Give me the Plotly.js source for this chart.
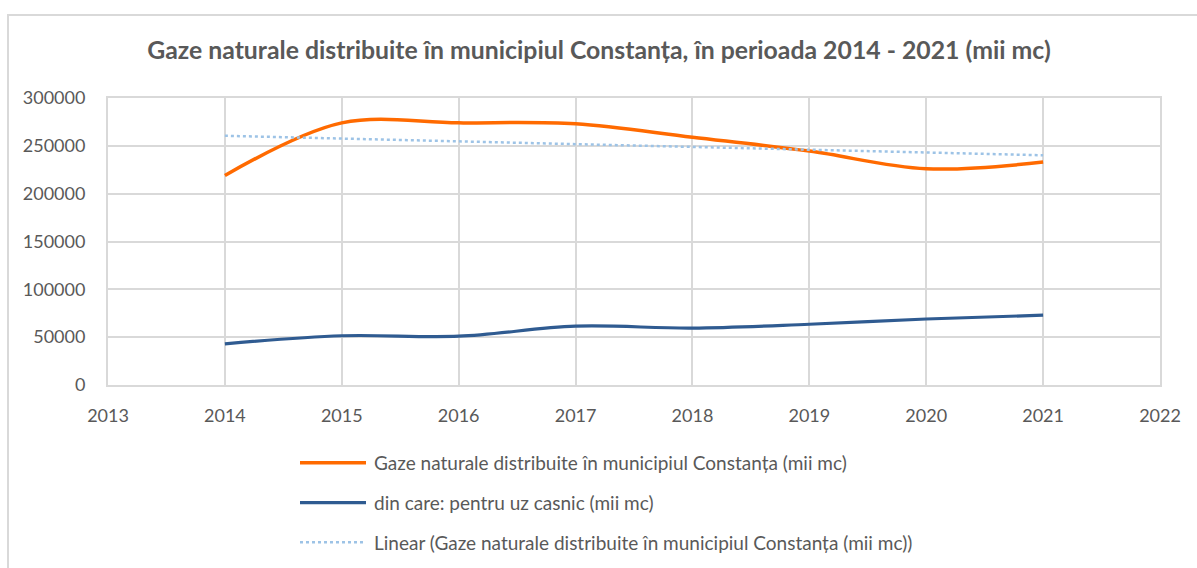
<!DOCTYPE html>
<html>
<head>
<meta charset="utf-8">
<script src="https://cdn.plot.ly/plotly-3.0.1.min.js"></script>
<style>
  html, body { margin: 0; padding: 0; background: #ffffff; overflow: hidden; }
  #chart { width: 1197px; height: 568px; position: absolute; left: 0; top: 0; }
  #frame { position: absolute; left: 7px; top: 14px; width: 1400px; height: 800px;
           border: 2px solid #d9d9d9; pointer-events: none; box-sizing: border-box; }
</style>
</head>
<body>
<div id="chart"></div>
<div id="frame"></div>
<script>
// ---- data ----
const years = [2014, 2015, 2016, 2017, 2018, 2019, 2020, 2021];
const totalGas = [219000, 274000, 274000, 273000, 259000, 244500, 226000, 233000];
const householdGas = [43000, 51500, 51000, 61500, 59500, 63500, 69000, 73000];
const xTickVals = [2013, 2014, 2015, 2016, 2017, 2018, 2019, 2020, 2021, 2022];
const yTickVals = [0, 50000, 100000, 150000, 200000, 250000, 300000];

const titleText = 'Gaze naturale distribuite în municipiul Constanța, în perioada 2014 - 2021 (mii mc)';
const nameTotal = 'Gaze naturale distribuite în municipiul Constanța (mii mc)';
const nameHouse = 'din care: pentru uz casnic (mii mc)';
const nameTrend = 'Linear (Gaze naturale distribuite în municipiul Constanța (mii mc))';

// linear trendline (least squares) of the total series, as in the original chart
function linearFit(xs, ys) {
  const n = xs.length;
  const mx = xs.reduce((a, b) => a + b, 0) / n;
  const my = ys.reduce((a, b) => a + b, 0) / n;
  let sxy = 0, sxx = 0;
  for (let i = 0; i < n; i++) { sxy += (xs[i] - mx) * (ys[i] - my); sxx += (xs[i] - mx) ** 2; }
  const b = sxy / sxx, a = my - b * mx;
  return xs.map(x => a + b * x);
}
const trend = linearFit(years, totalGas);

const FONT = 'Lato, "Open Sans", sans-serif';
const TXT = '#595959';
const GRID = '#d9d9d9';

const traces = [
  { x: years, y: totalGas, name: nameTotal, type: 'scatter', mode: 'lines',
    line: { color: '#ff6a00', width: 3.5, shape: 'spline', smoothing: 1 },
    legendgroup: 'a', hoverinfo: 'x+y' },
  { x: years, y: householdGas, name: nameHouse, type: 'scatter', mode: 'lines',
    line: { color: '#2f5b91', width: 3.2, shape: 'spline', smoothing: 1 },
    legendgroup: 'b', hoverinfo: 'x+y' },
  { x: years, y: trend, name: nameTrend, type: 'scatter', mode: 'lines',
    line: { color: '#9dc3e6', width: 2.5, dash: 'dot' },
    legendgroup: 'c', hoverinfo: 'x+y' }
];

const layout = {
  width: 1197, height: 568,
  paper_bgcolor: 'rgba(0,0,0,0)', plot_bgcolor: '#ffffff',
  margin: { l: 108, r: 37, t: 98, b: 183 },
  font: { family: FONT, color: TXT, size: 18 },
  title: { text: '<b>' + titleText + '</b>', font: { family: FONT, size: 24.8, color: TXT },
           x: 599 / 1197, xref: 'container', xanchor: 'center', y: 1 - 50 / 568, yref: 'container', yanchor: 'middle' },
  xaxis: { range: [2013, 2022], tickvals: xTickVals, ticktext: xTickVals.map(String),
           showgrid: true, gridcolor: GRID, gridwidth: 2, zeroline: false,
           showline: true, linecolor: GRID, linewidth: 2, mirror: true,
           ticks: '', ticklabelstandoff: 13, tickfont: { size: 18, color: TXT, family: FONT } },
  yaxis: { range: [0, 300000], tickvals: yTickVals, ticktext: yTickVals.map(String),
           showgrid: true, gridcolor: GRID, gridwidth: 2, zeroline: false,
           showline: true, linecolor: GRID, linewidth: 2, mirror: true,
           ticks: '', ticklabelstandoff: 17, tickfont: { size: 18, color: TXT, family: FONT } },
  showlegend: true,
  legend: { orientation: 'v', x: (334 - 108) / 1052, xanchor: 'left', xref: 'paper',
            y: 1 - 444 / 568, yref: 'container', yanchor: 'top',
            traceorder: 'grouped', tracegroupgap: 12,
            font: { family: FONT, size: 19, color: TXT }, bgcolor: 'rgba(0,0,0,0)' },
  hovermode: 'closest'
};

Plotly.newPlot('chart', traces, layout, { displayModeBar: false, staticPlot: true }).then(function (gd) {
  // lengthen the legend line samples to match the original legend keys
  gd.querySelectorAll('.legend [clip-path]').forEach(function (el) { el.removeAttribute('clip-path'); });
  gd.querySelectorAll('.legend .legendlines path').forEach(function (p) {
    p.setAttribute('d', 'M-34,0h66');
  });
});
</script>
</body>
</html>
